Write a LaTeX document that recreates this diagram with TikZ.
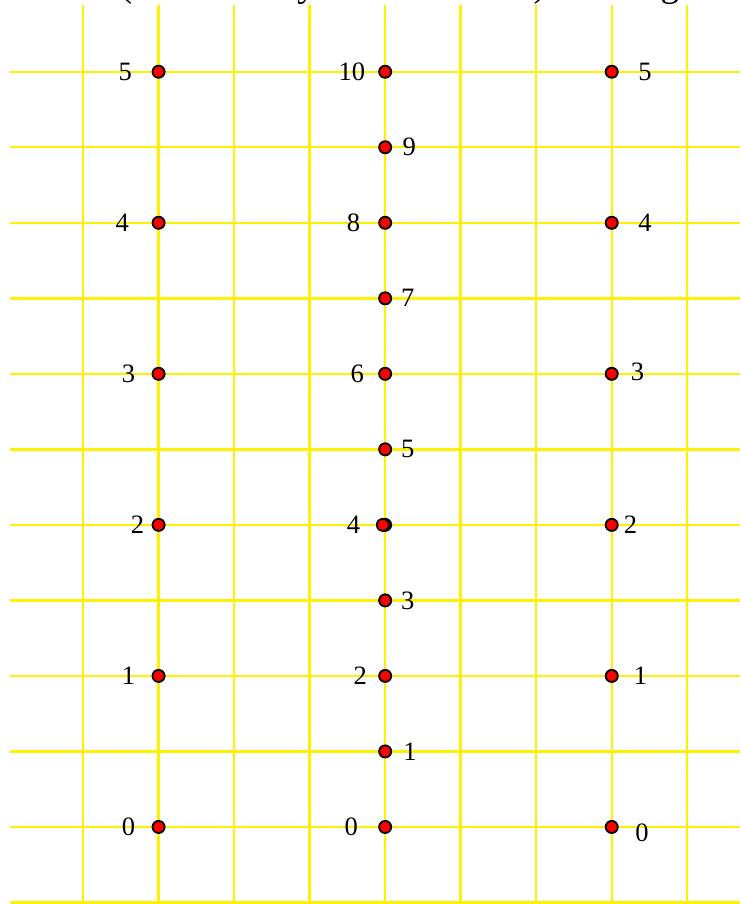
\documentclass[tikz,border=0pt]{standalone}
\usepackage{fontspec}
\setmainfont{Liberation Serif}
\begin{document}
\begin{tikzpicture}[
  gridline/.style={yellow, line width=0.9pt},
  dot/.style={circle, draw, fill=red, inner sep=0pt, minimum size=0.16cm, line width=0.7pt},
  num/.style={inner sep=0pt, font=\fontsize{10}{12}\selectfont}
]
\useasboundingbox (0,0) rectangle (9.80,11.97);
\node[anchor=base west, inner sep=0pt, font=\fontsize{14}{16}\selectfont] (title) at (1.58,12.02) {(labels set by each row here) in a ring};
\begin{scope}[shift={(0.10,0.02)}]
  % grid
  \foreach \y in {0,...,11} \draw[gridline] (0.03,\y) -- (9.7,\y);
  \foreach \x in {1,...,9} \draw[gridline] (\x,-0.02) -- (\x,11.89);
  % left column
  \foreach \n/\dx in {0/-0.40, 1/-0.40, 2/-0.28, 3/-0.40, 4/-0.48, 5/-0.44} {
    \node[dot] (l\n) at (2,{2*\n+1}) {};
    \node[num] (lt\n) at ([xshift=\dx cm]l\n.center) {\n};
  }
  % middle column
  \foreach \n/\dx in {0/-0.45, 1/0.33, 2/-0.33, 3/0.30, 4/-0.42, 5/0.30,
                      6/-0.37, 7/0.30, 8/-0.42, 9/0.32, 10/-0.44} {
    \node[dot] (m\n) at (5,{\n+1}) {};
    \node[num] (mt\n) at ([xshift=\dx cm]m\n.center) {\n};
  }
  \node[dot] (m4b) at ([xshift=-0.03cm]m4.center) {};
  % right column
  \foreach \n/\dx/\dy in {0/0.40/-0.08, 1/0.38/0, 2/0.25/0, 3/0.34/0.02, 4/0.44/0, 5/0.44/0} {
    \node[dot] (r\n) at (8,{2*\n+1}) {};
    \node[num] (rt\n) at ([shift={(\dx,\dy)}]r\n.center) {\n};
  }
\end{scope}
\end{tikzpicture}
\end{document}
